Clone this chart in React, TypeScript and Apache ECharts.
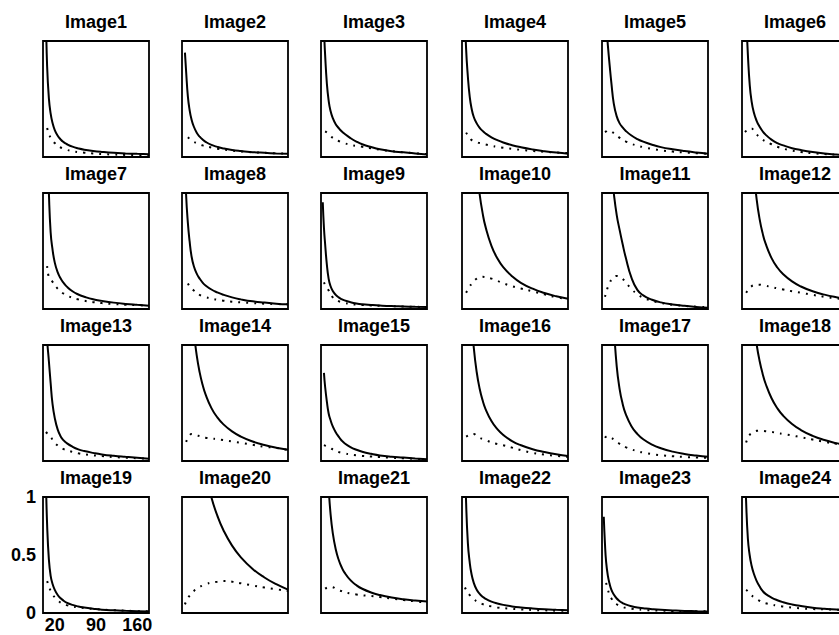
import React, { useEffect, useRef } from "react";
import * as echarts from "echarts";

// shared x sample positions (units of the x axis, 0..180)
const X = [3, 5, 7, 10, 13, 16, 20, 25, 30, 35, 40, 50, 60, 70, 85, 100, 120, 140, 160, 180];

const TITLES = [
  "Image1", "Image2", "Image3", "Image4", "Image5", "Image6",
  "Image7", "Image8", "Image9", "Image10", "Image11", "Image12",
  "Image13", "Image14", "Image15", "Image16", "Image17", "Image18",
  "Image19", "Image20", "Image21", "Image22", "Image23", "Image24",
];

const X_TICKS = [20, 90, 160];
const Y_MIN = 0;
const Y_MAX = 1;
const Y_STEP = 0.5;
const X_MIN = 0;
const X_MAX = 180;

const _ = null;

const img1Solid = [_, 1.229, 0.782, 0.506, 0.374, 0.297, 0.232, 0.183, 0.151, 0.128, 0.112, 0.089, 0.074, 0.063, 0.052, 0.044, 0.036, 0.031, 0.027, 0.024];
const img1Dotted = [_, _, 0.25, 0.2, 0.165, 0.14, 0.12, 0.095, 0.082, 0.07, 0.062, 0.05, 0.042, 0.037, 0.03, 0.025, 0.021, 0.018, 0.016, 0.015];
const img2Solid = [_, 0.9, 0.737, 0.521, 0.403, 0.328, 0.263, 0.21, 0.175, 0.15, 0.131, 0.104, 0.087, 0.074, 0.06, 0.051, 0.042, 0.036, 0.031, 0.027];
const img2Dotted = [_, _, _, 0.17, 0.155, 0.14, 0.13, 0.12, 0.11, 0.1, 0.093, 0.082, 0.072, 0.064, 0.055, 0.048, 0.041, 0.036, 0.032, 0.029];
const img3Solid = [_, 1.1, 0.88, 0.63, 0.485, 0.4, 0.335, 0.283, 0.25, 0.222, 0.2, 0.163, 0.133, 0.11, 0.086, 0.067, 0.05, 0.04, 0.03, 0.022];
const img3Dotted = [_, _, 0.22, 0.21, 0.195, 0.18, 0.165, 0.15, 0.138, 0.127, 0.118, 0.105, 0.096, 0.088, 0.075, 0.063, 0.05, 0.041, 0.032, 0.025];
const img4Solid = [_, 1.25, 0.93, 0.69, 0.525, 0.425, 0.345, 0.29, 0.252, 0.225, 0.203, 0.17, 0.145, 0.125, 0.102, 0.084, 0.065, 0.05, 0.038, 0.029];
const img4Dotted = [_, _, 0.21, 0.185, 0.165, 0.148, 0.138, 0.128, 0.12, 0.115, 0.108, 0.097, 0.088, 0.08, 0.07, 0.062, 0.052, 0.045, 0.039, 0.034];
const img5Solid = [_, _, 1.15, 0.96, 0.79, 0.635, 0.46, 0.35, 0.29, 0.255, 0.227, 0.185, 0.155, 0.132, 0.106, 0.085, 0.066, 0.051, 0.039, 0.029];
const img5Dotted = [_, 0.215, 0.22, 0.228, 0.228, 0.22, 0.205, 0.185, 0.165, 0.148, 0.135, 0.113, 0.098, 0.085, 0.07, 0.058, 0.047, 0.039, 0.033, 0.028];
const img6Solid = [_, _, 1.2, 0.88, 0.63, 0.49, 0.385, 0.31, 0.26, 0.222, 0.193, 0.15, 0.12, 0.1, 0.076, 0.06, 0.043, 0.03, 0.021, 0.015];
const img6Dotted = [_, 0.215, 0.225, 0.24, 0.245, 0.245, 0.23, 0.195, 0.17, 0.15, 0.135, 0.11, 0.088, 0.072, 0.055, 0.043, 0.032, 0.025, 0.02, 0.017];

const img7Solid = [_, _, 1.5, 1.0, 0.66, 0.52, 0.4, 0.315, 0.262, 0.225, 0.195, 0.153, 0.125, 0.106, 0.084, 0.07, 0.055, 0.044, 0.036, 0.029];
const img7Dotted = [_, _, 0.37, 0.27, 0.25, 0.235, 0.205, 0.175, 0.15, 0.132, 0.118, 0.097, 0.083, 0.071, 0.059, 0.051, 0.043, 0.037, 0.033, 0.029];
const img8Solid = [_, 1.3, 0.98, 0.74, 0.58, 0.46, 0.37, 0.305, 0.262, 0.228, 0.203, 0.168, 0.143, 0.123, 0.1, 0.083, 0.066, 0.055, 0.046, 0.04];
const img8Dotted = [_, _, _, 0.22, 0.195, 0.178, 0.16, 0.14, 0.122, 0.11, 0.102, 0.09, 0.08, 0.072, 0.063, 0.057, 0.051, 0.046, 0.043, 0.04];
const img9Solid = [0.92, 0.7, 0.56, 0.38, 0.26, 0.2, 0.155, 0.122, 0.1, 0.085, 0.074, 0.059, 0.048, 0.041, 0.035, 0.03, 0.025, 0.022, 0.019, 0.017];
const img9Dotted = [_, 0.23, 0.21, 0.185, 0.16, 0.13, 0.1, 0.08, 0.068, 0.058, 0.052, 0.043, 0.038, 0.035, 0.031, 0.028, 0.025, 0.021, 0.019, 0.017];
const img10Solid = [_, _, _, _, _, _, _, 1.219, 0.989, 0.827, 0.708, 0.545, 0.437, 0.361, 0.282, 0.226, 0.175, 0.138, 0.11, 0.089];
const img10Dotted = [_, _, 0.14, 0.168, 0.195, 0.215, 0.24, 0.262, 0.273, 0.277, 0.275, 0.262, 0.243, 0.222, 0.196, 0.177, 0.152, 0.126, 0.102, 0.086];
const img11Solid = [_, _, _, _, _, 1.2, 1.0, 0.81, 0.68, 0.56, 0.45, 0.27, 0.165, 0.117, 0.08, 0.057, 0.039, 0.027, 0.018, 0.011];
const img11Dotted = [_, 0.105, 0.14, 0.19, 0.225, 0.252, 0.275, 0.285, 0.278, 0.26, 0.232, 0.172, 0.128, 0.097, 0.07, 0.052, 0.037, 0.027, 0.02, 0.015];
const img12Solid = [_, _, _, _, _, _, 1.193, 0.94, 0.773, 0.654, 0.565, 0.441, 0.358, 0.3, 0.238, 0.194, 0.153, 0.124, 0.102, 0.085];
const img12Dotted = [_, _, 0.14, 0.16, 0.18, 0.195, 0.205, 0.21, 0.21, 0.205, 0.2, 0.19, 0.178, 0.168, 0.153, 0.14, 0.122, 0.105, 0.092, 0.082];

const img13Solid = [_, 1.3, 1.05, 0.86, 0.67, 0.5, 0.37, 0.27, 0.212, 0.178, 0.155, 0.123, 0.1, 0.086, 0.07, 0.057, 0.045, 0.036, 0.028, 0.02];
const img13Dotted = [_, 0.25, 0.24, 0.228, 0.21, 0.185, 0.157, 0.133, 0.116, 0.103, 0.094, 0.078, 0.066, 0.058, 0.049, 0.042, 0.034, 0.028, 0.024, 0.02];
const img14Solid = [_, _, _, _, _, _, 1.119, 0.91, 0.764, 0.657, 0.574, 0.456, 0.376, 0.318, 0.255, 0.21, 0.168, 0.138, 0.115, 0.097];
const img14Dotted = [_, _, 0.165, 0.2, 0.222, 0.232, 0.228, 0.22, 0.215, 0.208, 0.2, 0.194, 0.188, 0.18, 0.168, 0.157, 0.14, 0.123, 0.113, 0.095];
const img15Solid = [_, 0.76, 0.64, 0.51, 0.41, 0.355, 0.298, 0.248, 0.21, 0.177, 0.153, 0.12, 0.097, 0.08, 0.062, 0.048, 0.037, 0.03, 0.022, 0.015];
const img15Dotted = [_, 0.137, 0.133, 0.127, 0.12, 0.112, 0.1, 0.088, 0.078, 0.071, 0.065, 0.056, 0.049, 0.044, 0.039, 0.034, 0.028, 0.023, 0.019, 0.015];
const img16Solid = [_, _, _, _, _, 1.247, 0.978, 0.765, 0.623, 0.523, 0.448, 0.344, 0.274, 0.225, 0.172, 0.136, 0.101, 0.077, 0.058, 0.044];
const img16Dotted = [_, _, 0.21, 0.218, 0.226, 0.232, 0.232, 0.218, 0.2, 0.19, 0.182, 0.16, 0.147, 0.135, 0.115, 0.093, 0.07, 0.055, 0.044, 0.036];
const img17Solid = [_, _, _, _, _, _, 1.175, 0.815, 0.618, 0.494, 0.409, 0.3, 0.233, 0.187, 0.141, 0.11, 0.081, 0.061, 0.047, 0.036];
const img17Dotted = [_, 0.2, 0.21, 0.215, 0.21, 0.2, 0.185, 0.165, 0.148, 0.133, 0.12, 0.1, 0.085, 0.073, 0.06, 0.05, 0.041, 0.035, 0.03, 0.027];
const img18Solid = [_, _, _, _, _, _, 1.191, 1.0, 0.86, 0.753, 0.668, 0.543, 0.455, 0.39, 0.319, 0.267, 0.217, 0.181, 0.154, 0.132];
const img18Dotted = [_, _, 0.16, 0.2, 0.225, 0.24, 0.252, 0.26, 0.262, 0.26, 0.257, 0.25, 0.242, 0.233, 0.22, 0.205, 0.185, 0.165, 0.148, 0.132];

const img19Solid = [_, 1.15, 0.76, 0.46, 0.32, 0.255, 0.2, 0.155, 0.127, 0.106, 0.09, 0.07, 0.056, 0.047, 0.037, 0.029, 0.023, 0.019, 0.016, 0.013];
const img19Dotted = [_, _, 0.275, 0.23, 0.19, 0.16, 0.135, 0.108, 0.09, 0.078, 0.068, 0.056, 0.048, 0.042, 0.035, 0.03, 0.024, 0.02, 0.016, 0.014];
const img20Solid = [_, _, _, _, _, _, _, _, _, _, 1.211, 0.996, 0.839, 0.718, 0.581, 0.48, 0.38, 0.306, 0.248, 0.202];
const img20Dotted = [_, 0.075, 0.1, 0.13, 0.15, 0.17, 0.19, 0.21, 0.225, 0.237, 0.248, 0.262, 0.27, 0.275, 0.27, 0.256, 0.237, 0.22, 0.205, 0.19];
const img21Solid = [_, _, _, 1.447, 1.083, 0.868, 0.688, 0.549, 0.459, 0.395, 0.348, 0.283, 0.24, 0.209, 0.177, 0.155, 0.134, 0.119, 0.108, 0.099];
const img21Dotted = [_, _, 0.21, 0.218, 0.223, 0.225, 0.222, 0.21, 0.198, 0.188, 0.178, 0.168, 0.16, 0.153, 0.146, 0.137, 0.125, 0.112, 0.1, 0.088];
const img22Solid = [_, 1.4, 0.95, 0.6, 0.44, 0.34, 0.26, 0.2, 0.165, 0.14, 0.122, 0.098, 0.082, 0.07, 0.057, 0.048, 0.039, 0.032, 0.027, 0.023];
const img22Dotted = [_, 0.22, 0.2, 0.175, 0.155, 0.138, 0.12, 0.1, 0.087, 0.077, 0.069, 0.057, 0.048, 0.042, 0.036, 0.031, 0.026, 0.023, 0.02, 0.018];
const img23Solid = [0.83, 0.6, 0.44, 0.32, 0.25, 0.2, 0.16, 0.125, 0.102, 0.086, 0.074, 0.058, 0.047, 0.041, 0.033, 0.027, 0.022, 0.018, 0.016, 0.014];
const img23Dotted = [_, _, 0.26, 0.2, 0.155, 0.125, 0.1, 0.076, 0.062, 0.052, 0.045, 0.037, 0.031, 0.027, 0.023, 0.02, 0.018, 0.016, 0.015, 0.014];
const img24Solid = [_, 1.3, 0.96, 0.64, 0.5, 0.415, 0.34, 0.275, 0.228, 0.19, 0.165, 0.133, 0.11, 0.093, 0.074, 0.06, 0.046, 0.037, 0.03, 0.026];
const img24Dotted = [_, _, 0.2, 0.185, 0.165, 0.152, 0.138, 0.12, 0.105, 0.093, 0.084, 0.073, 0.063, 0.056, 0.046, 0.04, 0.034, 0.031, 0.029, 0.027];

const SOLID = [
  img1Solid, img2Solid, img3Solid, img4Solid, img5Solid, img6Solid,
  img7Solid, img8Solid, img9Solid, img10Solid, img11Solid, img12Solid,
  img13Solid, img14Solid, img15Solid, img16Solid, img17Solid, img18Solid,
  img19Solid, img20Solid, img21Solid, img22Solid, img23Solid, img24Solid,
];
const DOTTED = [
  img1Dotted, img2Dotted, img3Dotted, img4Dotted, img5Dotted, img6Dotted,
  img7Dotted, img8Dotted, img9Dotted, img10Dotted, img11Dotted, img12Dotted,
  img13Dotted, img14Dotted, img15Dotted, img16Dotted, img17Dotted, img18Dotted,
  img19Dotted, img20Dotted, img21Dotted, img22Dotted, img23Dotted, img24Dotted,
];

// layout
const COL_LEFT = [43, 182, 321, 462, 602, 742];
const ROW_TOP = [41, 193, 345, 497];
const PANEL_W = 106;
const PANEL_H = 116;
const LABELED_PANEL = 18;
const FONT = '"Liberation Sans", Arial, Helvetica, sans-serif';

function toPairs(vals: (number | null)[]) {
  const out: [number, number][] = [];
  vals.forEach((v, i) => {
    if (v !== null && v !== undefined) out.push([X[i], v]);
  });
  return out;
}

export default function App() {
  const ref = useRef<HTMLDivElement>(null);

  useEffect(() => {
    if (!ref.current) return;
    const chart = echarts.init(ref.current, null, { renderer: "svg" });

    const grid: any[] = [];
    const xAxis: any[] = [];
    const yAxis: any[] = [];
    const series: any[] = [];
    const graphic: any[] = [];

    for (let i = 0; i < TITLES.length; i++) {
      const r = Math.floor(i / 6);
      const c = i % 6;
      const labeled = i === LABELED_PANEL;
      grid.push({
        left: COL_LEFT[c],
        top: ROW_TOP[r],
        width: PANEL_W,
        height: PANEL_H,
        show: true,
        borderColor: "#000",
        borderWidth: 1.8,
        backgroundColor: "transparent",
        containLabel: false,
        outerBoundsMode: "none",
      });
      xAxis.push({
        type: "value",
        gridIndex: i,
        min: X_MIN,
        max: X_MAX,
        axisLine: { show: false },
        axisTick: { show: false },
        splitLine: { show: false },
        axisLabel: labeled
          ? {
              show: true,
              customValues: X_TICKS,
              color: "#000",
              fontSize: 18,
              fontWeight: "bold",
              fontFamily: FONT,
              margin: 3,
            }
          : { show: false },
      });
      yAxis.push({
        type: "value",
        gridIndex: i,
        min: Y_MIN,
        max: Y_MAX,
        interval: Y_STEP,
        axisLine: { show: false },
        axisTick: { show: false },
        splitLine: { show: false },
        axisLabel: labeled
          ? {
              show: true,
              showMinLabel: true,
              showMaxLabel: true,
              color: "#000",
              fontSize: 18,
              fontWeight: "bold",
              fontFamily: FONT,
              margin: 7,
            }
          : { show: false },
      });
      series.push({
        type: "line",
        xAxisIndex: i,
        yAxisIndex: i,
        data: toPairs(SOLID[i]),
        showSymbol: false,
        symbol: "none",
        smooth: 0.5,
        clip: true,
        silent: true,
        lineStyle: { color: "#000", width: 2 },
      });
      series.push({
        type: "line",
        xAxisIndex: i,
        yAxisIndex: i,
        data: toPairs(DOTTED[i]),
        showSymbol: false,
        symbol: "none",
        smooth: 0.5,
        clip: true,
        silent: true,
        lineStyle: { color: "#000", width: 2, type: [2, 6] },
      });
      graphic.push({
        type: "text",
        x: COL_LEFT[c] + PANEL_W / 2,
        y: ROW_TOP[r] - 19,
        silent: true,
        style: {
          text: TITLES[i],
          fill: "#000",
          fontSize: 18,
          fontWeight: "bold",
          fontFamily: FONT,
          align: "center",
          verticalAlign: "middle",
        },
      });
    }

    chart.setOption({
      animation: false,
      backgroundColor: "#fff",
      grid,
      xAxis,
      yAxis,
      series,
      graphic,
    });

    return () => chart.dispose();
  }, []);

  return (
    <div
      ref={ref}
      style={{ position: "fixed", left: 0, top: 0, width: 839, height: 635 }}
    />
  );
}
